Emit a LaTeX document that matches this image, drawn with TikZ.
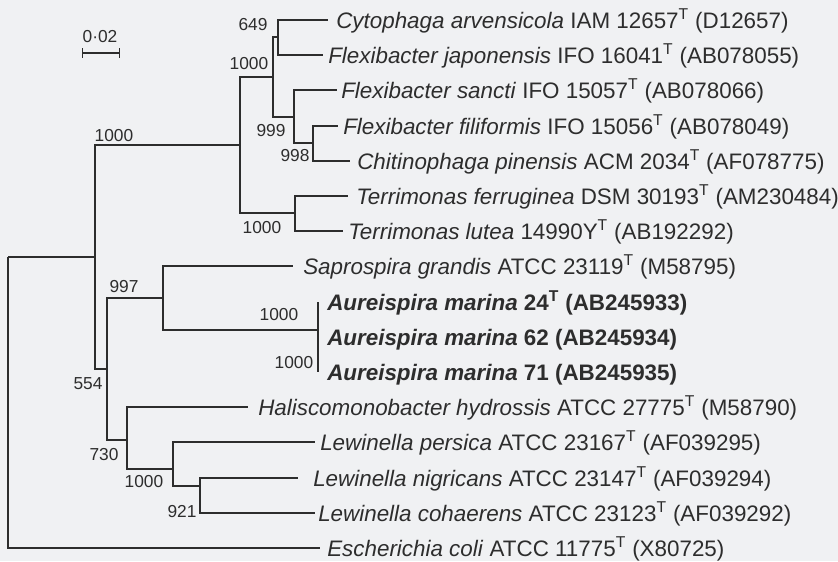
\documentclass[tikz,border=0pt]{standalone}
\usepackage{fontspec}
\setmainfont{Liberation Sans}
\usetikzlibrary{arrows.meta}
\definecolor{paper}{RGB}{240,241,243}
\definecolor{ink}{RGB}{45,45,45}

\begin{document}
\begin{tikzpicture}[x=0.75pt,y=-0.75pt,
  br/.style={line width=1.4pt,draw=ink},
  leaf/.style={anchor=base west,inner sep=0pt,text=ink,font=\fontsize{16.8}{18}\selectfont},
  boot/.style={inner sep=0pt,text=ink,font=\fontsize{13}{15}\selectfont}]
\fill[paper] (0,0) rectangle (838,561);
\useasboundingbox (0,0) rectangle (838,561);

\coordinate (root) at (8,257);
\coordinate (nC) at (95,257);
\coordinate (nA) at (240,145);
\coordinate (nB) at (273,77);
\coordinate (nCy) at (278,37);
\coordinate (nFl) at (294,117);
\coordinate (nCh) at (313,143);
\coordinate (nTe) at (295,213);
\coordinate (nD) at (107,369);
\coordinate (nE) at (163,298);
\coordinate (nAu) at (318,330);
\coordinate (auTop) at (318,302);
\coordinate (auBot) at (318,372);
\coordinate (nF) at (127,440);
\coordinate (nH) at (173,469);
\coordinate (nL) at (200,486);

\coordinate (tCyto) at (328,20);
\coordinate (tJapo) at (323,55);
\coordinate (tSanc) at (337,90);
\coordinate (tFili) at (338,126);
\coordinate (tChit) at (350,161);
\coordinate (tFerr) at (348,196);
\coordinate (tLute) at (343,231);
\coordinate (tSapr) at (293,266);
\coordinate (tHali) at (248,407);
\coordinate (tPers) at (315,442);
\coordinate (tNigr) at (298,478);
\coordinate (tCoha) at (315,513);
\coordinate (tEcol) at (320,548);

\draw[br] (root) |- (nC);
\draw[br] (root) |- (tEcol);
\draw[br] (nC) |- (nA);
\draw[br] (nC) |- (nD);
\draw[br] (nA) |- (nB);
\draw[br] (nA) |- (nTe);
\draw[br] (nB) |- (nCy);
\draw[br] (nB) |- (nFl);
\draw[br] (nCy) |- (tCyto);
\draw[br] (nCy) |- (tJapo);
\draw[br] (nFl) |- (tSanc);
\draw[br] (nFl) |- (nCh);
\draw[br] (nCh) |- (tFili);
\draw[br] (nCh) |- (tChit);
\draw[br] (nTe) |- (tFerr);
\draw[br] (nTe) |- (tLute);
\draw[br] (nD) |- (nE);
\draw[br] (nD) |- (nF);
\draw[br] (nE) |- (tSapr);
\draw[br] (nE) |- (nAu);
\draw[br] (auTop) -- (auBot);
\draw[br] (nF) |- (tHali);
\draw[br] (nF) |- (nH);
\draw[br] (nH) |- (tPers);
\draw[br] (nH) |- (nL);
\draw[br] (nL) |- (tNigr);
\draw[br] (nL) |- (tCoha);

\node[leaf] (lCyto) at (336,28) {\textit{Cytophaga arvensicola} IAM 12657\textsuperscript{T} (D12657)};
\node[leaf] (lJapo) at (328,63) {\textit{Flexibacter japonensis} IFO 16041\textsuperscript{T} (AB078055)};
\node[leaf] (lSanc) at (341,98) {\textit{Flexibacter sancti} IFO 15057\textsuperscript{T} (AB078066)};
\node[leaf] (lFili) at (343,134) {\textit{Flexibacter filiformis} IFO 15056\textsuperscript{T} (AB078049)};
\node[leaf] (lChit) at (357,169) {\textit{Chitinophaga pinensis} ACM 2034\textsuperscript{T} (AF078775)};
\node[leaf] (lFerr) at (356,204) {\textit{Terrimonas ferruginea} DSM 30193\textsuperscript{T} (AM230484)};
\node[leaf] (lLute) at (348,239) {\textit{Terrimonas lutea} 14990Y\textsuperscript{T} (AB192292)};
\node[leaf] (lSapr) at (303,274) {\textit{Saprospira grandis} ATCC 23119\textsuperscript{T} (M58795)};
\node[leaf] (lAu24) at (327,310) {\textbf{\textit{Aureispira marina} 24\textsuperscript{T} (AB245933)}};
\node[leaf] (lAu62) at (327,345) {\textbf{\textit{Aureispira marina} 62 (AB245934)}};
\node[leaf] (lAu71) at (327,380) {\textbf{\textit{Aureispira marina} 71 (AB245935)}};
\node[leaf] (lHali) at (258,415) {\textit{Haliscomonobacter hydrossis} ATCC 27775\textsuperscript{T} (M58790)};
\node[leaf] (lPers) at (320,450) {\textit{Lewinella persica} ATCC 23167\textsuperscript{T} (AF039295)};
\node[leaf] (lNigr) at (313,486) {\textit{Lewinella nigricans} ATCC 23147\textsuperscript{T} (AF039294)};
\node[leaf] (lCoha) at (318,521) {\textit{Lewinella cohaerens} ATCC 23123\textsuperscript{T} (AF039292)};
\node[leaf] (lEcol) at (327,556) {\textit{Escherichia coli} ATCC 11775\textsuperscript{T} (X80725)};

\node[boot] (bCy) at (253,25) {649};
\node[boot] (bB) at (249,64) {1000};
\node[boot] (bFl) at (271,131) {999};
\node[boot] (bCh) at (295,156) {998};
\node[boot] (bTe) at (262,228) {1000};
\node[boot] (bA) at (114,136) {1000};
\node[boot] (bE) at (124,287) {997};
\node[boot] (bD) at (88,384) {554};
\node[boot] (bAu) at (279,315) {1000};
\node[boot] (bAv) at (294,363) {1000};
\node[boot] (bF) at (104,455) {730};
\node[boot] (bH) at (144,482) {1000};
\node[boot] (bL) at (182,512) {921};

\coordinate (sbL) at (82,53);
\coordinate (sbR) at (120,53);
\draw[line width=1.1pt,draw=ink,{Bar[width=7pt]}-{Bar[width=7pt]}] (sbL) -- (sbR);
\node[boot] (sbT) at (100,37) {0·02};
\end{tikzpicture}
\end{document}
